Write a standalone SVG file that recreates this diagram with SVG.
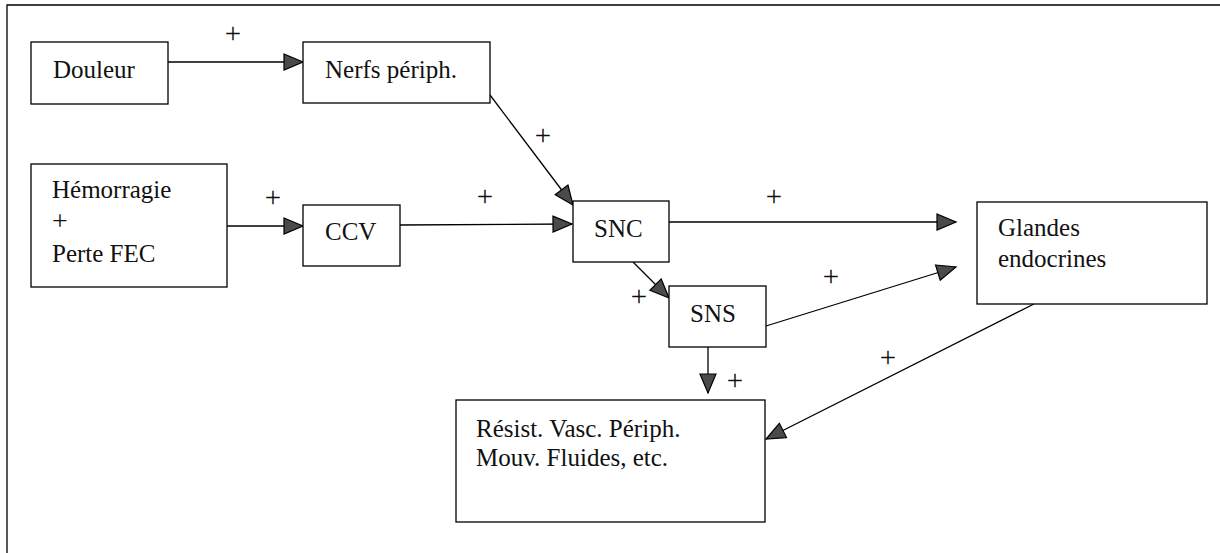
<svg xmlns="http://www.w3.org/2000/svg" width="1220" height="553" viewBox="0 0 1220 553">
<style>
  .box { fill: #ffffff; stroke: #000000; stroke-width: 1.3; }
  .lbl { font-family: "Liberation Serif", "Times New Roman", serif; font-size: 25px; fill: #111111; }
  .plus { font-family: "Liberation Serif", "Times New Roman", serif; font-size: 29px; fill: #111111; text-anchor: middle; }
  .con { fill: none; stroke: #000000; stroke-width: 1.3; marker-end: url(#arr); }
</style>
<defs>
  <marker id="arr" markerUnits="userSpaceOnUse" markerWidth="22" markerHeight="20" viewBox="-1 -1 22 20" refX="19" refY="8" orient="auto">
    <path d="M0,0 L19,8 L0,16 Z" fill="#4a4a4a" stroke="#000000" stroke-width="1.2" stroke-linejoin="miter"/>
  </marker>
</defs>
<rect width="1220" height="553" fill="#ffffff"/>
<path d="M7,560 L7,5 L1225,5" fill="none" stroke="#000000" stroke-width="1.3"/>

<g id="connectors">
  <line class="con" x1="168" y1="62" x2="303" y2="62"/>
  <line class="con" x1="227" y1="226" x2="303" y2="226"/>
  <line class="con" x1="400" y1="225" x2="572" y2="224"/>
  <line class="con" x1="490" y1="95" x2="573" y2="205"/>
  <line class="con" x1="669" y1="222" x2="956" y2="222"/>
  <line class="con" x1="633" y1="262" x2="669" y2="298"/>
  <line class="con" x1="766" y1="326" x2="956" y2="267"/>
  <line class="con" x1="708" y1="347" x2="708" y2="393"/>
  <line class="con" x1="1034" y1="304" x2="766" y2="439"/>
  <text class="plus" x="233" y="43">+</text>
  <text class="plus" x="543" y="145">+</text>
  <text class="plus" x="273" y="207">+</text>
  <text class="plus" x="485" y="206">+</text>
  <text class="plus" x="774" y="206">+</text>
  <text class="plus" x="639" y="306">+</text>
  <text class="plus" x="831" y="286">+</text>
  <text class="plus" x="888" y="367">+</text>
  <text class="plus" x="735" y="390">+</text>
</g>

<g id="douleur">
  <rect class="box" x="31" y="42" width="137" height="62"/>
  <text class="lbl" x="53" y="78">Douleur</text>
</g>
<g id="nerfs">
  <rect class="box" x="303" y="42" width="187" height="61"/>
  <text class="lbl" x="325" y="78">Nerfs périph.</text>
</g>
<g id="hemorragie">
  <rect class="box" x="31" y="164" width="196" height="123"/>
  <text class="lbl" x="52" y="198">Hémorragie</text>
  <text class="lbl" x="52" y="230" style="font-size:28px">+</text>
  <text class="lbl" x="52" y="262">Perte FEC</text>
</g>
<g id="ccv">
  <rect class="box" x="303" y="205" width="97" height="61"/>
  <text class="lbl" x="325" y="240">CCV</text>
</g>
<g id="snc">
  <rect class="box" x="573" y="201" width="96" height="61"/>
  <text class="lbl" x="594" y="237">SNC</text>
</g>
<g id="sns">
  <rect class="box" x="669" y="286" width="97" height="61"/>
  <text class="lbl" x="690" y="322">SNS</text>
</g>
<g id="glandes">
  <rect class="box" x="977" y="202" width="230" height="102"/>
  <text class="lbl" x="998" y="236">Glandes</text>
  <text class="lbl" x="998" y="267">endocrines</text>
</g>
<g id="resist">
  <rect class="box" x="456" y="400" width="309" height="122"/>
  <text class="lbl" x="476" y="437">Résist. Vasc. Périph.</text>
  <text class="lbl" x="476" y="466">Mouv. Fluides, etc.</text>
</g>
</svg>
